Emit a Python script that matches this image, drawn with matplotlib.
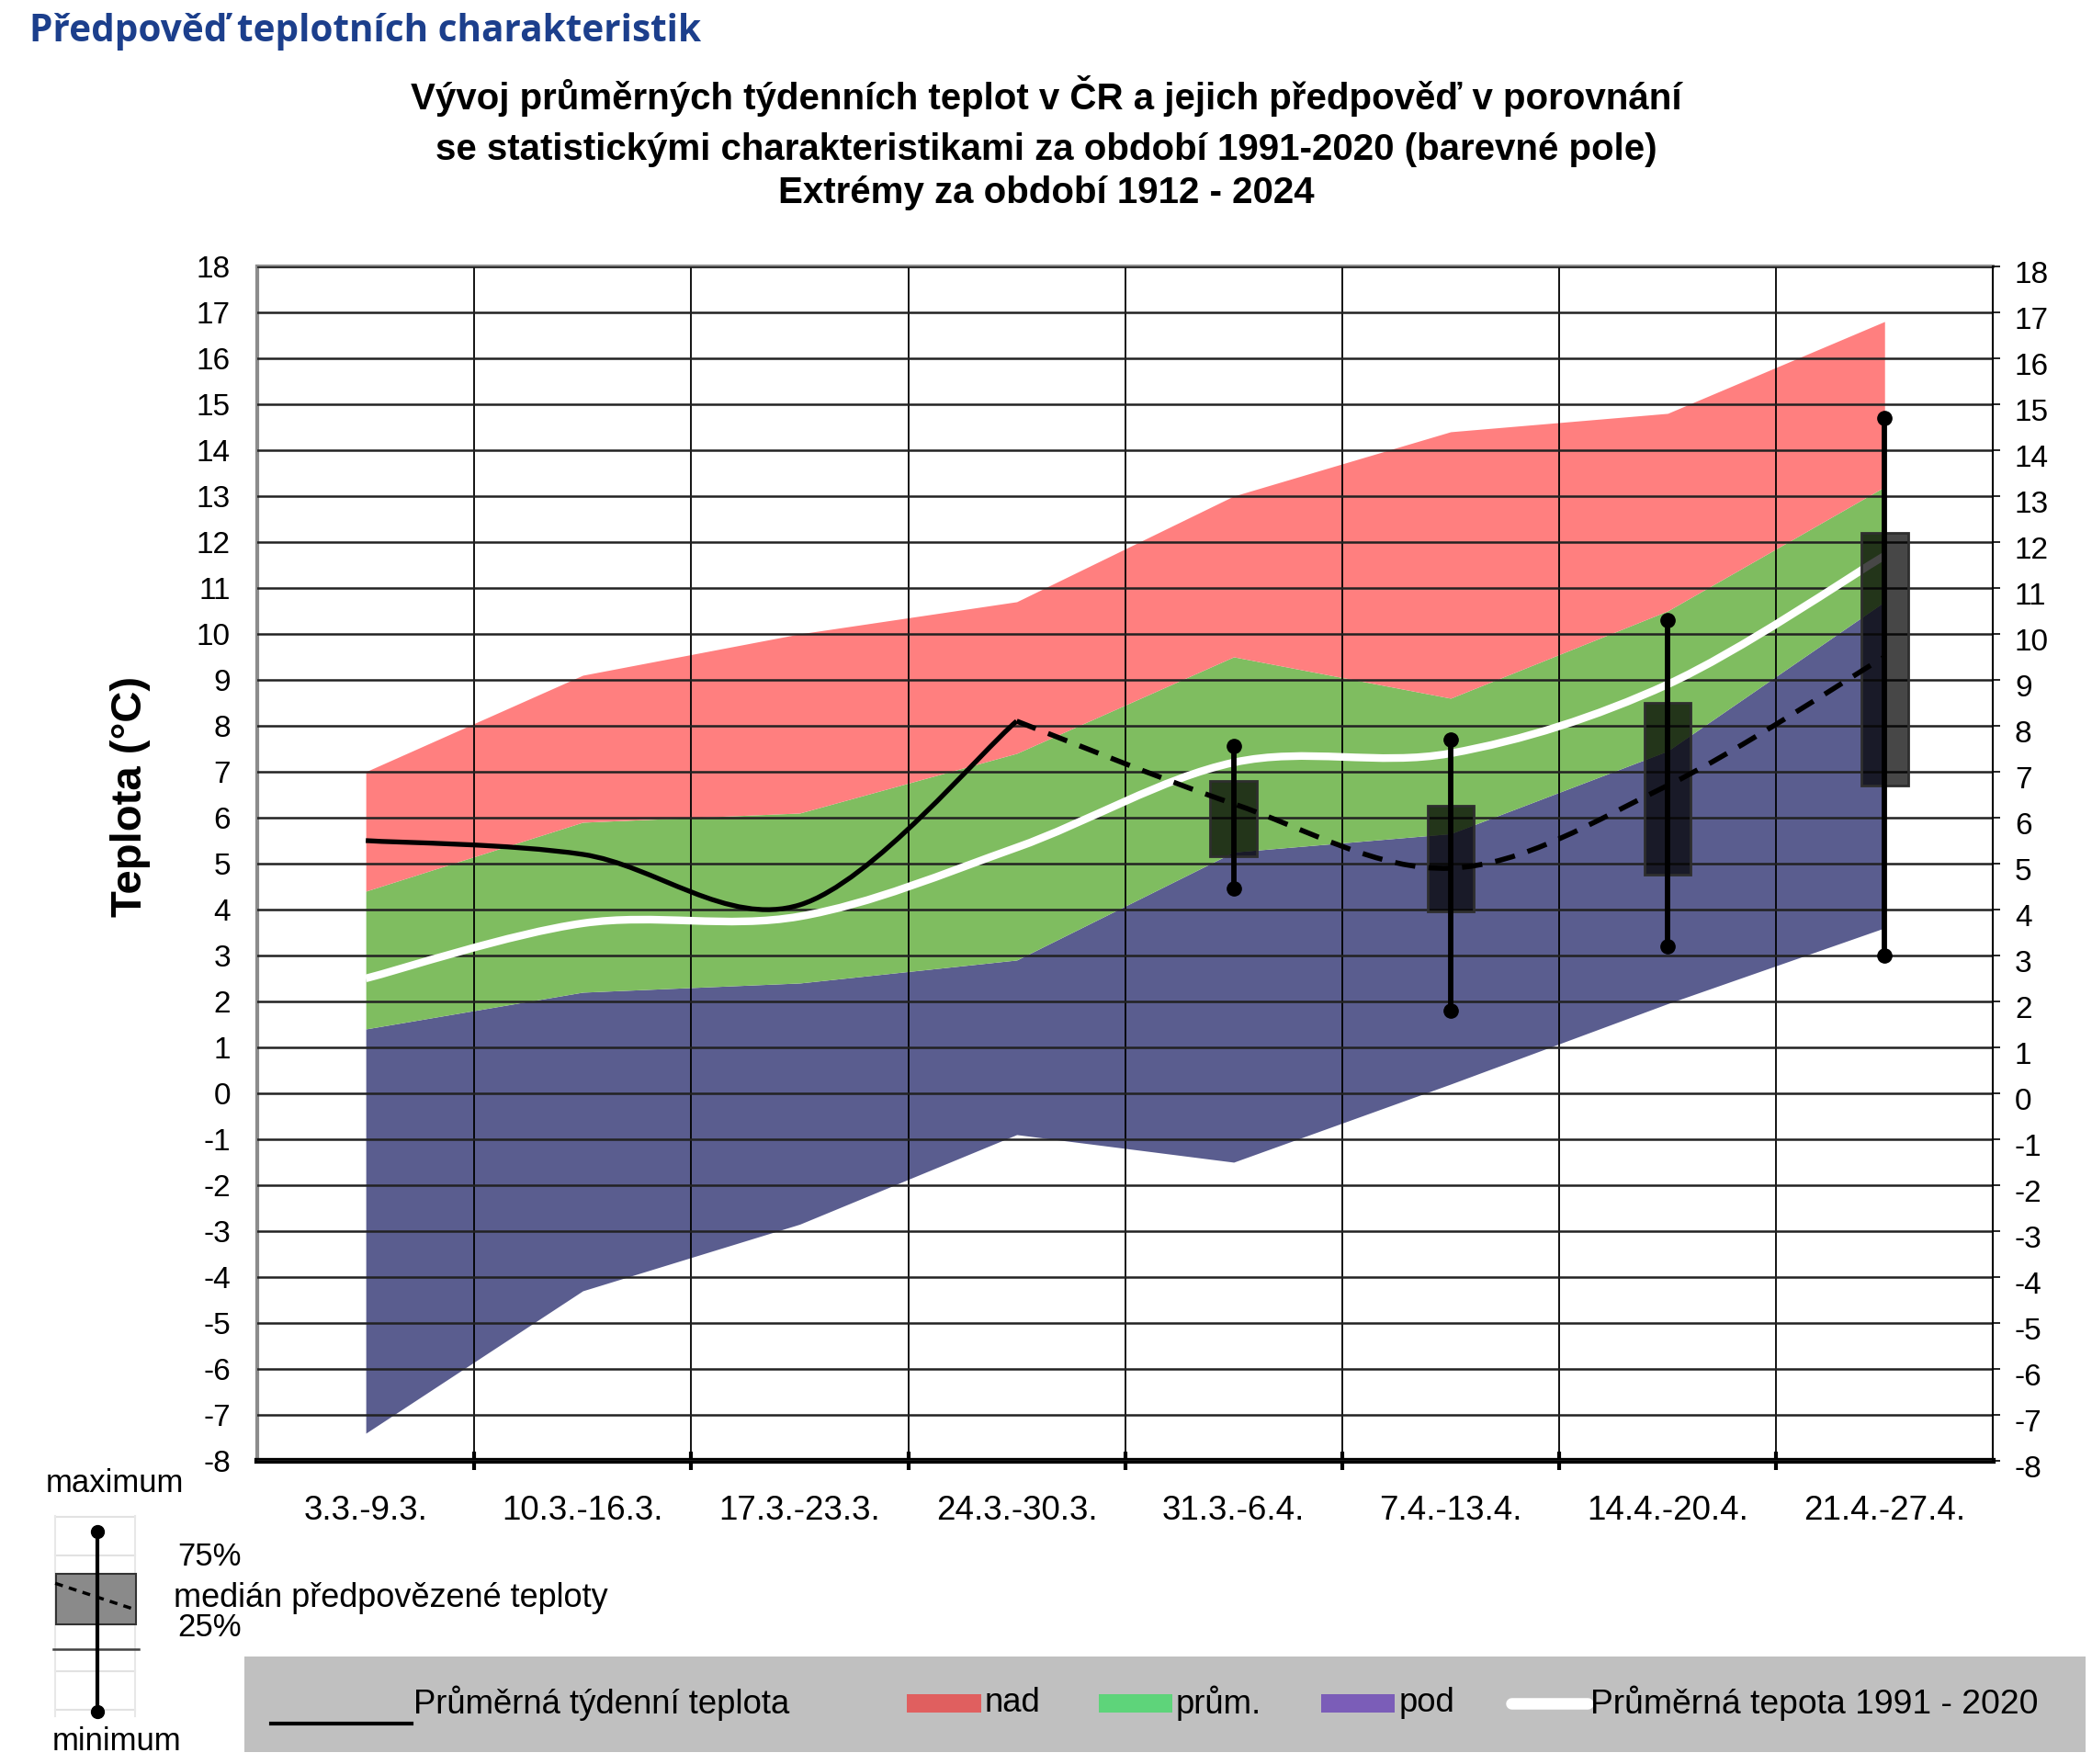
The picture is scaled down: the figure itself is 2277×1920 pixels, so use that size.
import numpy as np
import matplotlib
matplotlib.use("Agg")
import matplotlib.pyplot as plt
from matplotlib.path import Path
from matplotlib.patches import PathPatch, Rectangle
from matplotlib.transforms import ScaledTranslation

plt.rcParams['font.family'] = ['Liberation Sans', 'DejaVu Sans']

# ---------------- data ----------------
weeks = ["3.3.-9.3.", "10.3.-16.3.", "17.3.-23.3.", "24.3.-30.3.",
         "31.3.-6.4.", "7.4.-13.4.", "14.4.-20.4.", "21.4.-27.4."]
ext_max = [7.0, 9.1, 10.0, 10.7, 13.0, 14.4, 14.8, 16.8]     # top of red field
upper = [4.4, 5.9, 6.1, 7.4, 9.5, 8.6, 10.5, 13.2]           # top of green field
lower = [1.4, 2.2, 2.4, 2.9, 5.25, 5.65, 7.45, 10.7]         # top of blue field
ext_min = [-7.4, -4.3, -2.85, -0.9, -1.5, 0.2, 1.95, 3.6]    # bottom of blue field
normal = [2.5, 3.7, 3.85, 5.35, 7.2, 7.4, 8.9, 11.7]         # mean 1991-2020

observed_weeks = [0, 1, 2, 3]
observed = [5.5, 5.2, 4.1, 8.1]

median_weeks = [3, 4, 5, 6, 7]
fc_median = [8.1, 6.3, 4.9, 6.7, 9.5]

box_weeks = [4, 5, 6, 7]
fc_min = [4.45, 1.8, 3.2, 3.0]
fc_q25 = [5.15, 3.95, 4.75, 6.7]
fc_q75 = [6.8, 6.25, 8.5, 12.2]
fc_max = [7.55, 7.7, 10.3, 14.7]

yticks = list(range(-8, 19))

RED = '#ff7f7f'
GREEN = '#7fbd60'
BLUE = '#5a5d8f'


def smooth_path(xs, ys):
    pts = np.column_stack([xs, ys]).astype(float)
    n = len(pts)
    verts = [pts[0]]
    codes = [Path.MOVETO]
    for i in range(n - 1):
        p0 = pts[i - 1] if i > 0 else pts[i]
        p1 = pts[i]
        p2 = pts[i + 1]
        p3 = pts[i + 2] if i + 2 < n else pts[i + 1]
        c1 = p1 + (p2 - p0) / 6.0
        c2 = p2 - (p3 - p1) / 6.0
        verts += [c1, c2, p2]
        codes += [Path.CURVE4] * 3
    return Path(verts, codes)


fig = plt.figure(figsize=(22.77, 19.2), dpi=100)
ax = fig.add_axes([0.123, 0.1719, 0.8297, 0.6771])

xc = np.arange(len(weeks)) + 0.5

ax.fill_between(xc, ext_min, lower, color=BLUE, lw=0, zorder=1)
ax.fill_between(xc, lower, upper, color=GREEN, lw=0, zorder=1)
ax.fill_between(xc, upper, ext_max, color=RED, lw=0, zorder=1)

# mean 1991-2020
ax.add_patch(PathPatch(smooth_path(xc, normal), facecolor='none',
                       edgecolor='white', lw=6, zorder=3, capstyle='butt'))
# observed weekly mean
ax.add_patch(PathPatch(smooth_path(xc[observed_weeks], observed), facecolor='none',
                       edgecolor='black', lw=3.8, zorder=4))

# forecast boxes
bx = xc[box_weeks]
ax.bar(bx, np.array(fc_q75) - np.array(fc_q25), bottom=fc_q25, width=0.215,
       color=(0, 0, 0, 0.72), edgecolor='#2e2e2e', lw=2, zorder=5)
ax.vlines(bx, fc_min, fc_max, color='black', lw=4.2, zorder=6)
ax.plot(bx, fc_min, 'o', color='black', ms=11, zorder=6)
ax.plot(bx, fc_max, 'o', color='black', ms=11, zorder=6)

# forecast median
ax.add_patch(PathPatch(smooth_path(xc[median_weeks], fc_median), facecolor='none',
                       edgecolor='black', lw=4, linestyle=(0, (4.0, 2.6)), zorder=7))

ax.set_xlim(0, len(weeks))
ax.set_ylim(-8, 18)
ax.set_yticks(yticks)
ax.set_yticklabels([str(v) for v in yticks])
ax.set_xticks(xc)
ax.set_xticklabels(weeks)
ax.set_xticks(np.arange(1, len(weeks)), minor=True)
ax.set_axisbelow(False)
ax.yaxis.grid(True, which='major', color='#222222', lw=1.8, zorder=2)
ax.xaxis.grid(True, which='minor', color='black', lw=1.3, zorder=2)
ax.xaxis.grid(False, which='major')

ax.tick_params(axis='y', which='both', length=0, labelsize=24, pad=21)
ax.tick_params(axis='x', which='major', length=0, labelsize=26.5, pad=27)
ax.tick_params(axis='x', which='minor', direction='inout', length=14, width=3, color='black')

for s in ['left', 'top']:
    ax.spines[s].set_color('#8c8c8c')
    ax.spines[s].set_linewidth(3)
ax.spines['bottom'].set_color('black')
ax.spines['bottom'].set_linewidth(4.5)
ax.spines['right'].set_visible(False)

ax2 = ax.twinx()
ax2.set_ylim(-8, 18)
ax2.set_yticks(yticks)
ax2.set_yticklabels([str(v) for v in yticks])
ax2.tick_params(axis='y', direction='out', length=6, width=1.2, labelsize=24, pad=11)
for s in ['left', 'top', 'bottom']:
    ax2.spines[s].set_visible(False)
ax2.spines['right'].set_color('black')
ax2.spines['right'].set_linewidth(1.5)
off = ScaledTranslation(0, -6 / 100, fig.dpi_scale_trans)
for lab in ax2.get_yticklabels():
    lab.set_transform(lab.get_transform() + off)

# titles
fig.text(0.014, 0.9818, "Předpověď teplotních charakteristik", color='#1c3f8c',
         fontsize=29.2, fontweight='bold', family=['Open Sans', 'DejaVu Sans'],
         ha='left', va='center')
fig.text(0.5, 0.9456, "Vývoj průměrných týdenních teplot v ČR a jejich předpověď v porovnání",
         fontsize=29, fontweight='bold', ha='center', va='center')
fig.text(0.5, 0.9153, "se statistickými charakteristikami za období 1991-2020 (barevné pole)",
         fontsize=29, fontweight='bold', ha='center', va='center')
fig.text(0.5, 0.8904, "Extrémy za období 1912 - 2024",
         fontsize=29, fontweight='bold', ha='center', va='center')
fig.text(0.0625, 0.5484, "Teplota (°C)", fontsize=34, fontweight='bold',
         rotation=90, ha='center', va='center')

# legend bar
lg = fig.add_axes([0.1168, 0.00677, 0.8801, 0.0542])
lg.set_facecolor('#c0c0c0')
lg.set_xlim(0, 1)
lg.set_ylim(0, 1)
lg.set_xticks([])
lg.set_yticks([])
for s in lg.spines.values():
    s.set_visible(False)
lg.plot([0.0145, 0.0908], [0.30, 0.30], color='black', lw=3)
lg.text(0.092, 0.51, "Průměrná týdenní teplota", fontsize=26.3, va='center', ha='left')
legend_items = [(0.360, '#e05f5f', "nad"), (0.464, '#5ed47a', "prům."), (0.585, '#7b5db8', "pod")]
for x0, col, lab in legend_items:
    lg.add_patch(Rectangle((x0, 0.41), 0.040, 0.20, color=col, lw=0))
    lg.text(x0 + 0.042, 0.51, lab, fontsize=26.3, va='center', ha='left')
lg.plot([0.688, 0.7295], [0.51, 0.51], color='white', lw=9, solid_capstyle='round')
lg.text(0.731, 0.51, "Průměrná tepota 1991 - 2020", fontsize=26.8, va='center', ha='left')

# box-plot key (bottom left)
kx = fig.add_axes([0.0242, 0.0245, 0.0439, 0.1172])
kx.set_xlim(0, 1)
kx.set_ylim(0, 1)
kx.axis('off')
for yy in [0.987, 0.80, 0.239, 0.052]:
    kx.plot([0.05, 0.92], [yy, yy], color='#e2e2e2', lw=1.5)
for xx in [0.05, 0.92]:
    kx.plot([xx, xx], [0.02, 0.99], color='#e8e8e8', lw=1.5)
kx.add_patch(Rectangle((0.058, 0.465), 0.87, 0.245, facecolor='#8a8a8a',
                       edgecolor='#333333', lw=1.5, zorder=2))
kx.plot([0.03, 0.957], [0.348, 0.348], color='#444444', lw=1.8, zorder=2)
kx.plot([0.05, 0.92], [0.665, 0.538], color='black', lw=2.5, ls=(0, (2.5, 2)), zorder=3)
kx.plot([0.507, 0.507], [0.045, 0.916], color='black', lw=3, zorder=4)
kx.plot([0.507, 0.507], [0.045, 0.916], 'o', color='black', ms=10, zorder=4)

fig.text(0.0549, 0.1589, "maximum", fontsize=25, ha='center', va='center')
fig.text(0.0560, 0.0130, "minimum", fontsize=25, ha='center', va='center')
fig.text(0.0848, 0.1177, "75%", fontsize=25, ha='left', va='center')
fig.text(0.0830, 0.0938, "medián předpovězené teploty", fontsize=26, ha='left', va='center')
fig.text(0.0848, 0.0776, "25%", fontsize=25, ha='left', va='center')

fig.savefig("out.png", dpi=100)
